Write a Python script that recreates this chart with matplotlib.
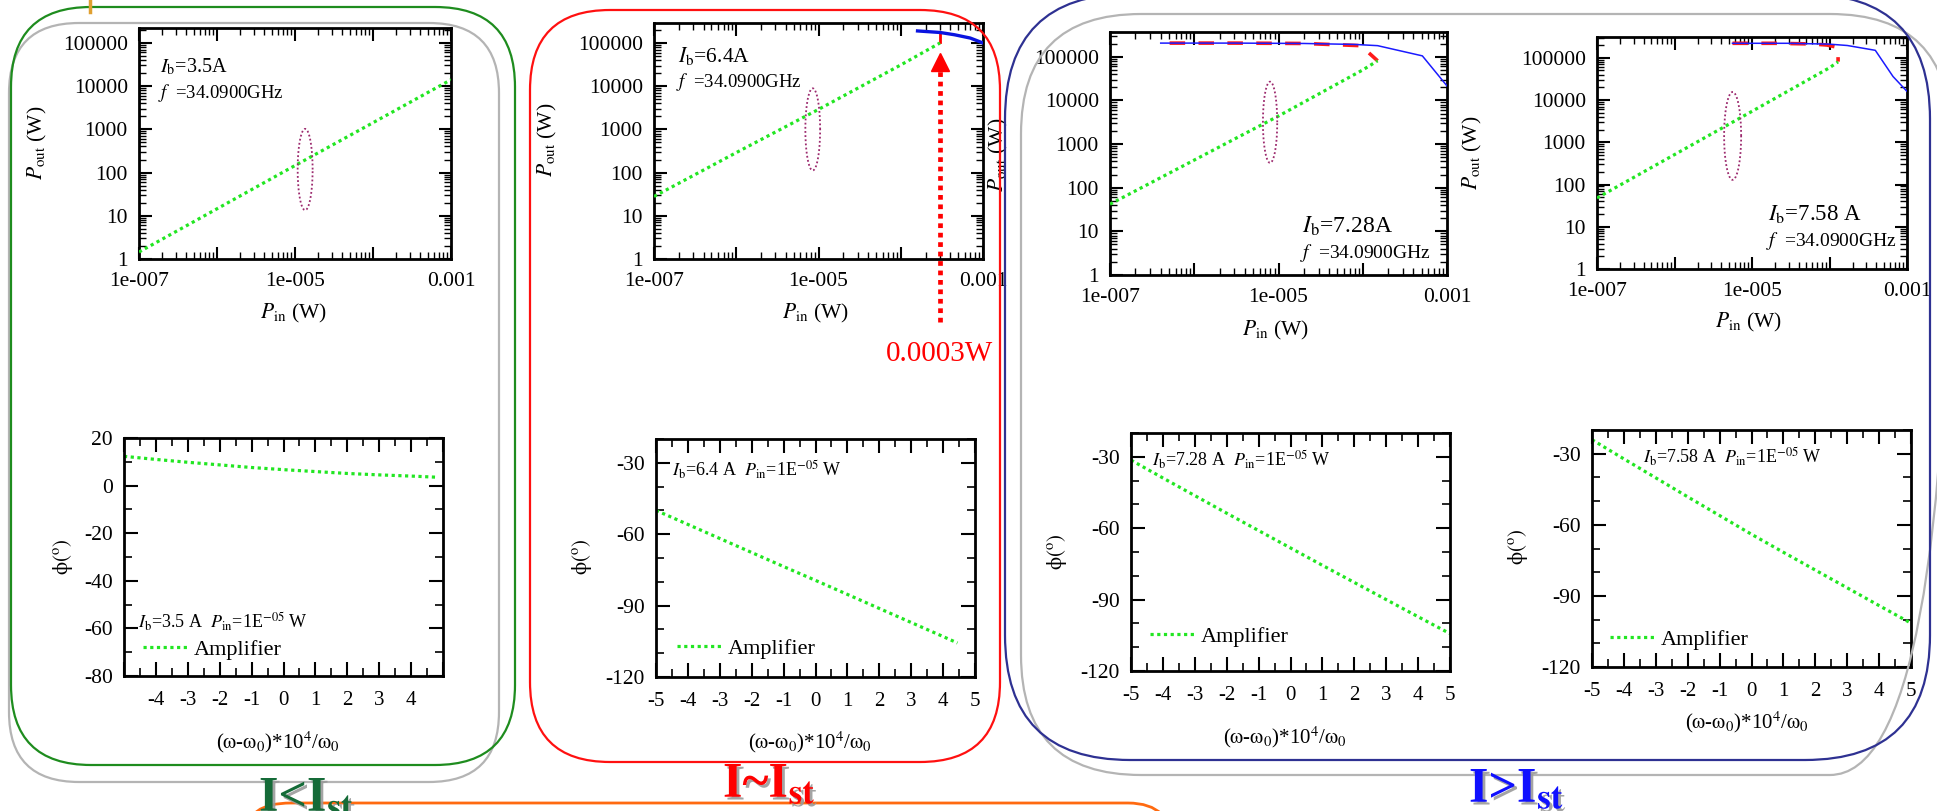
import numpy as np
import matplotlib
matplotlib.use('Agg')
import matplotlib.pyplot as plt
from matplotlib.patches import FancyBboxPatch
from matplotlib.ticker import LogLocator, NullFormatter, MultipleLocator, FixedLocator
import matplotlib.patheffects as pe

plt.rcParams['font.family'] = ['Liberation Serif', 'DejaVu Serif']
plt.rcParams['mathtext.fontset'] = 'stix'
plt.rcParams['axes.unicode_minus'] = False

W, H = 1937, 811

# ---------------- data ----------------
currents = ['3.5', '6.4', '7.28', '7.58']

# amplifier branch (green dotted), Pout vs Pin
amp_pin_1 = [1e-7, 1e-6, 1e-5, 1e-4, 1e-3]
amp_pout_1 = [1.45, 14.5, 145, 1420, 14000]
amp_pin_2 = [1e-7, 1e-6, 1e-5, 1e-4, 3e-4]
amp_pout_2 = [28, 290, 2900, 31000, 100000]
amp_pin_3 = [1e-7, 1e-6, 1e-5, 1e-4, 1.5e-4]
amp_pout_3 = [42, 430, 4400, 50000, 81000]
amp_pin_4 = [1e-7, 1e-6, 1e-5, 1e-4, 1.29e-4]
amp_pout_4 = [48, 510, 5400, 58000, 80000]

# oscillator branch (blue solid)
osc_pin_2 = [1.6e-4, 3e-4, 4.5e-4, 7e-4, 1e-3]
osc_pout_2 = [1.9e5, 1.75e5, 1.55e5, 1.3e5, 1.0e5]
osc_pin_3 = [4e-7, 3e-6, 2e-5, 8e-5, 1.5e-4, 5.1e-4, 1e-3]
osc_pout_3 = [2.06e5, 2.06e5, 2.02e5, 1.92e5, 1.8e5, 1.05e5, 2.15e4]
osc_pin_4 = [5.6e-6, 3e-5, 1e-4, 1.7e-4, 3.9e-4, 6.6e-4, 1e-3]
osc_pout_4 = [2.2e5, 2.2e5, 2.1e5, 1.95e5, 1.5e5, 3.6e4, 1.6e4]

# locked branch (red dashed)
lock_pin_2 = [3e-4, 3e-4]
lock_pout_2 = [1.05e5, 1.7e5]
lock_pin_3 = [5.1e-7, 3e-6, 2e-5, 9.5e-5, 1.5e-4]
lock_pout_3 = [2.06e5, 2.06e5, 2.02e5, 1.8e5, 8.1e4]
lock_pin_4 = [5.6e-6, 2e-5, 6e-5, 9.3e-5, 1.29e-4, 1.29e-4]
lock_pout_4 = [2.2e5, 2.2e5, 2.12e5, 2.0e5, 1.75e5, 8.1e4]

# dotted ellipses (log10 centre, half size in decades)
ell_logx = [-4.87, -5.07, -5.10, -5.25]
ell_logy = [2.07, 3.0, 3.5, 3.15]
ell_hx = [0.096, 0.09, 0.085, 0.11]
ell_hy = [0.94, 0.95, 0.93, 1.04]

# phase vs detuning
phase_x_1 = [-5, -4, -3, -2, -1, 0, 1, 2, 3, 4, 4.85]
phase_1 = [12.3, 11.0, 9.8, 8.7, 7.6, 6.7, 5.9, 5.1, 4.5, 4.0, 3.5]
phase_x_2 = [-5, -4, -3, -2, -1, 0, 1, 2, 3, 4, 4.45]
phase_2 = [-50.0, -55.9, -61.8, -67.7, -73.6, -79.4, -85.3, -91.2, -97.1, -103.0, -105.7]
phase_x_3 = [-5, -4, -3, -2, -1, 0, 1, 2, 3, 4, 5]
phase_3 = [-31.4, -38.9, -46.3, -53.7, -61.0, -68.3, -75.6, -82.8, -90.0, -97.2, -104.3]
phase_x_4 = [-5, -4, -3, -2, -1, 0, 1, 2, 3, 4, 5]
phase_4 = [-24.1, -32.2, -40.2, -48.2, -56.1, -64.0, -71.6, -79.1, -86.6, -94.1, -101.5]

ptick_vals = [1, 10, 100, 1000, 1e4, 1e5]
ptick_labels = ['1', '10', '100', '1000', '10000', '100000']
xtick_vals = [1e-7, 1e-6, 1e-5, 1e-4, 1e-3]
xtick_labels = ['1e-007', '', '1e-005', '', '0.001']

# ---------------- layout (pixels) ----------------
top_boxes = [(139, 28, 451, 259), (654, 23, 983, 259), (1110, 32, 1447, 275), (1597, 37, 1907, 269)]
bot_boxes = [(124, 438, 443, 676), (656, 439, 975, 677), (1131, 433, 1450, 671), (1592, 430, 1911, 667)]
top_ymax = [2.2e5, 2.9e5, 3.7e5, 3.1e5]

GREEN = '#22e622'
fig = plt.figure(figsize=(W / 100, H / 100), dpi=100)


def add_ax(box):
    l, t, r, b = box
    ax = fig.add_axes([l / W, 1 - b / H, (r - l) / W, (b - t) / H])
    for s in ax.spines.values():
        s.set_linewidth(2)
    ax.tick_params(which='both', direction='in', top=True, right=True)
    return ax


def ftext(x, y, s, **kw):
    fig.text(x / W, 1 - y / H, s, **kw)


amp = [(amp_pin_1, amp_pout_1), (amp_pin_2, amp_pout_2), (amp_pin_3, amp_pout_3), (amp_pin_4, amp_pout_4)]
osc = [None, (osc_pin_2, osc_pout_2), (osc_pin_3, osc_pout_3), (osc_pin_4, osc_pout_4)]
lock = [None, (lock_pin_2, lock_pout_2), (lock_pin_3, lock_pout_3), (lock_pin_4, lock_pout_4)]
ib_pos = [(0.067, 0.83), (0.073, 0.86), (0.57, 0.20), (0.55, 0.237)]
f_pos = [(0.062, 0.72), (0.067, 0.75), (0.565, 0.09), (0.545, 0.12)]
ib_size = [14.5, 15.5, 17, 16.5]
f_size = [13.5, 13.5, 14, 14]
ib_fmt = ['{}A', '{}A', '{}A', '{} A']

top_axes = []
for i in range(4):
    ax = add_ax(top_boxes[i])
    top_axes.append(ax)
    ax.set_xscale('log')
    ax.set_yscale('log')
    ax.set_xlim(1e-7, 1e-3)
    ax.set_ylim(1, top_ymax[i])
    ax.set_xticks(xtick_vals, xtick_labels)
    ax.set_yticks(ptick_vals, ptick_labels)
    ax.xaxis.set_minor_locator(LogLocator(base=10, subs=np.arange(2, 10), numticks=20))
    ax.yaxis.set_minor_locator(LogLocator(base=10, subs=np.arange(2, 10), numticks=20))
    ax.xaxis.set_minor_formatter(NullFormatter())
    ax.yaxis.set_minor_formatter(NullFormatter())
    ax.tick_params(which='major', length=9, width=1.5, labelsize=15.5)
    ax.tick_params(which='minor', length=5, width=1)
    ax.tick_params(axis='x', pad=9)
    ax.tick_params(axis='y', pad=8)

    if lock[i] is not None:
        if i == 1:
            ax.plot(lock[i][0], lock[i][1], color='red', lw=2, zorder=2)
        else:
            ax.plot(lock[i][0], lock[i][1], color='#ff1a1a', lw=2.6,
                    linestyle=(0, (4.3, 3.7)), zorder=2)
    if osc[i] is not None:
        ax.plot(osc[i][0], osc[i][1], color='#0a14e0' if i == 1 else '#1a1aff',
                lw=2.4 if i == 1 else 1.1, zorder=3)
    ax.plot(amp[i][0], amp[i][1], color=GREEN, lw=2.3, linestyle=(0, (1, 1.1)), zorder=4)

    t = np.linspace(0, 2 * np.pi, 240)
    ax.plot(10 ** (ell_logx[i] + ell_hx[i] * np.cos(t)), 10 ** (ell_logy[i] + ell_hy[i] * np.sin(t)),
            color='#9c2a6e', lw=1.3, linestyle=(0, (1, 1.3)), zorder=5)

    ax.text(*ib_pos[i], r'$I_{\rm b}$=' + ib_fmt[i].format(currents[i]), transform=ax.transAxes,
            fontsize=ib_size[i], va='center', ha='left')
    ax.text(*f_pos[i], r'$f$  =34.0900GHz', transform=ax.transAxes,
            fontsize=f_size[i], va='center', ha='left')

# injection power marker in the I~Ist panel
ax2 = top_axes[1]
ax2.plot([3e-4, 3e-4], [0.035, 3.2e4], color='red', lw=3.4, linestyle=(0, (1, 1)),
         clip_on=False, zorder=6)
ax2.plot([3e-4], [3.6e4], marker='^', color='red', ms=13, clip_on=False, zorder=6)
ax2.text(3e-4, 6.2e-3, '0.0003W', color='red', fontsize=21, ha='center', va='center', clip_on=False)

# phase panels
phases = [(phase_x_1, phase_1), (phase_x_2, phase_2), (phase_x_3, phase_3), (phase_x_4, phase_4)]
ann_pos = [(0.044, 0.227), (0.05, 0.87), (0.066, 0.886), (0.16, 0.886)]
leg_pos = [(0.06, 0.11), (0.066, 0.12), (0.06, 0.143), (0.056, 0.114)]
for i in range(4):
    ax = add_ax(bot_boxes[i])
    ax.set_xlim(-5, 5)
    ax.set_xticks(range(-5, 6))
    if i == 0:
        ax.set_xticklabels([''] + [str(v) for v in range(-4, 5)] + [''])
        ax.set_ylim(-80, 20)
        ax.yaxis.set_major_locator(MultipleLocator(20))
    else:
        ax.set_ylim(-120, -20)
        ax.yaxis.set_major_locator(FixedLocator([-120, -90, -60, -30]))
    ax.xaxis.set_minor_locator(MultipleLocator(0.5))
    ax.yaxis.set_minor_locator(MultipleLocator(10))
    ax.tick_params(which='major', length=10, width=1.5, labelsize=15.5)
    ax.tick_params(which='minor', length=6, width=1.2)
    ax.tick_params(axis='x', pad=11, labelsize=15)
    ax.tick_params(axis='y', pad=8)

    ax.plot(phases[i][0], phases[i][1], color=GREEN, lw=2.3, linestyle=(0, (1, 1.1)), label='Amplifier')
    ax.legend(loc='center left', bbox_to_anchor=leg_pos[i], frameon=False, fontsize=16,
              handlelength=2.0, handletextpad=0.3, borderpad=0, borderaxespad=0)
    ax.text(*ann_pos[i], r'$I_{\rm b}$=' + currents[i] + r' A  $P_{\rm in}$=1E$^{-05}$ W',
            transform=ax.transAxes, fontsize=13, va='center', ha='left')

# axis labels
pout_lab = r'$P_{\rm out}$ (W)'
pin_lab = r'$P_{\rm in}$ (W)'
phi_lab = r'$\mathrm{\phi}(^{\rm o})$'
om_lab = r'($\mathrm{\omega}$-$\mathrm{\omega_0}$)*10$^4$/$\mathrm{\omega_0}$'
for (x, y) in [(37, 143), (547, 140), (998, 155), (1472, 153)]:
    ftext(x, y, pout_lab, rotation=90, ha='center', va='center', fontsize=15.5)
for (x, y) in [(293, 313), (815, 313), (1275, 330), (1748, 322)]:
    ftext(x, y, pin_lab, ha='center', va='center', fontsize=15.5)
for (x, y) in [(63, 557), (582, 557), (1057, 552), (1518, 547)]:
    ftext(x, y, phi_lab, rotation=90, ha='center', va='center', fontsize=15)
for (x, y) in [(278, 742), (810, 742), (1285, 737), (1747, 722)]:
    ftext(x, y, om_lab, ha='center', va='center', fontsize=15)

# slide decorations: rounded frames and regime labels
bg = fig.add_axes([0, 0, 1, 1], zorder=10)
bg.set_xlim(0, W)
bg.set_ylim(H, 0)
bg.axis('off')
bg.patch.set_alpha(0)
frames = [
    (9, 23, 499, 782, 70, '#b4b4b4', 1.6),
    (11, 7, 515, 765, 80, '#1e8c1e', 1.6),
    (530, 10, 1000, 762, 80, '#ff1010', 1.6),
    (1021, 14, 1950, 775, 120, '#b4b4b4', 1.6),
    (1005, -6, 1930, 760, 125, '#2e3192', 1.6),
    (246, 803, 1173, 880, 45, '#ff6a10', 2.0),
]
for l, t, r, b, rad, col, lw in frames:
    bg.add_patch(FancyBboxPatch((l, t), r - l, b - t, boxstyle=f'round,pad=0,rounding_size={rad}',
                                fill=False, edgecolor=col, lw=lw))
bg.plot([90, 90], [0, 12], color='#e0a030', lw=2.5)

shadow = [pe.withSimplePatchShadow(offset=(2, -2), shadow_rgbFace='#9a9a9a', alpha=0.9)]
big = dict(fontsize=36, fontweight='bold', ha='left', va='baseline', path_effects=shadow)
bg.text(259, 811, r'I<I$_{\mathbf{st}}$', color='#156b38', **big)
bg.text(723, 797, r'I~I$_{\mathbf{st}}$', color='#ff0000', **big)
bg.text(1469, 802, r'I>I$_{\mathbf{st}}$', color='#1010ff', **big)

fig.savefig('out.png', dpi=100)
